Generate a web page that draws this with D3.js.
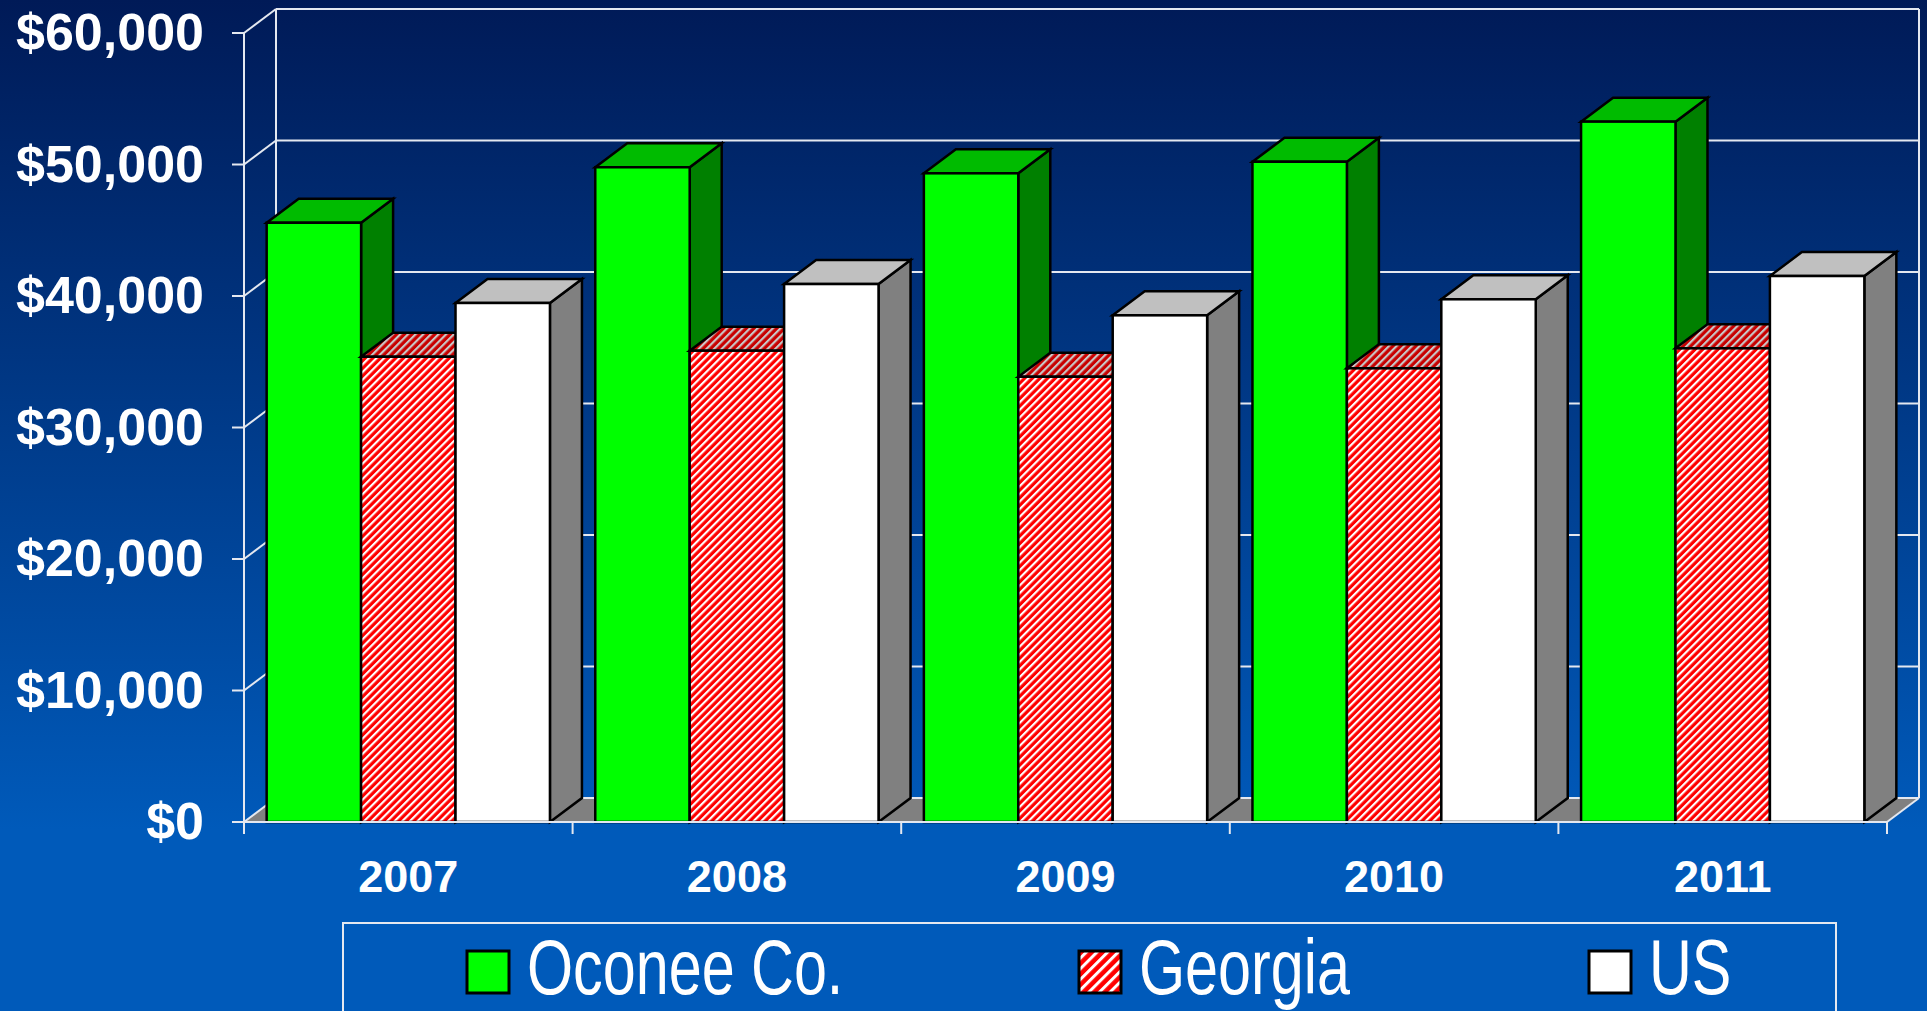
<!DOCTYPE html>
<html lang="en">
  <head>
    <meta charset="UTF-8" />
    <title>Per Capita Income</title>
    <style>
      html, body { margin: 0; padding: 0; overflow: hidden; background: #005cbd; }
      svg { display: block; }
    </style>
  </head>
  <body>
    <script src="https://cdnjs.cloudflare.com/ajax/libs/d3/7.8.5/d3.min.js"></script>
    <script>
      var years = ["2007", "2008", "2009", "2010", "2011"];
      var series = ["Oconee Co.", "Georgia", "US"];
      var oconee = [45570, 49790, 49330, 50210, 53260];
      var georgia = [35380, 35840, 33860, 34500, 36020];
      var us = [39470, 40910, 38530, 39750, 41520];
      var yTicks = [0, 10000, 20000, 30000, 40000, 50000, 60000];

      var w = 1927, h = 1011;
      var depth = { x: 32, y: -24 };

      var svg = d3.select("body").append("svg")
                  .attr("width", w)
                  .attr("height", h);

      var defs = svg.append("defs");

      var bg = defs.append("linearGradient")
                   .attr("id", "bg")
                   .attr("gradientUnits", "userSpaceOnUse")
                   .attr("x1", 0).attr("y1", 0)
                   .attr("x2", 0).attr("y2", 830);
      bg.append("stop").attr("offset", "0%").attr("stop-color", "#001a57");
      bg.append("stop").attr("offset", "100%").attr("stop-color", "#005aba");

      // red / white stripes for Georgia
      function stripes(id, bgColor, lineColor, size) {
        var p = defs.append("pattern")
                    .attr("id", id)
                    .attr("patternUnits", "userSpaceOnUse")
                    .attr("width", size)
                    .attr("height", size)
                    .attr("patternTransform", "rotate(45)");
        p.append("rect").attr("width", size).attr("height", size).attr("fill", bgColor);
        p.append("rect").attr("width", size * 0.4).attr("height", size).attr("fill", lineColor);
      }
      stripes("redFront", "#ff0000", "#ffffff", 5.4);
      stripes("redTop", "#c80000", "#c8c8c8", 5.4);
      stripes("redSide", "#900000", "#909090", 5.4);
      stripes("redLegend", "#ff0000", "#ffffff", 7.5);

      svg.append("rect")
         .attr("width", w)
         .attr("height", h)
         .attr("fill", "url(#bg)");

      var x0 = d3.scaleBand()
                 .domain(years)
                 .range([244, 1887]);

      var x1 = d3.scaleBand()
                 .domain(series)
                 .range([0, x0.bandwidth()])
                 .paddingOuter(0.24);

      var yScale = d3.scaleLinear()
                     .domain([0, 60000])
                     .range([822, 33]);

      var colors = {
        "Oconee Co.": { front: "#00ff00", top: "#00bb00", side: "#008000" },
        "Georgia": { front: "url(#redFront)", top: "url(#redTop)", side: "url(#redSide)" },
        "US": { front: "#ffffff", top: "#c0c0c0", side: "#808080" }
      };

      var gridColor = "#e4e8f0";
      var x0L = 244, x0R = 1887;

      // floor
      svg.append("polygon")
         .attr("points", [
           [x0L, yScale(0)], [x0R, yScale(0)],
           [x0R + depth.x, yScale(0) + depth.y], [x0L + depth.x, yScale(0) + depth.y]
         ].join(" "))
         .attr("fill", "#808080");

      // back wall gridlines and side wall diagonals
      var grid = svg.append("g")
                    .attr("stroke", gridColor)
                    .attr("stroke-width", 2)
                    .attr("fill", "none");

      grid.selectAll(".back")
          .data(yTicks)
          .enter()
          .append("line")
          .attr("x1", x0L + depth.x)
          .attr("x2", x0R + depth.x)
          .attr("y1", function(d) { return yScale(d) + depth.y; })
          .attr("y2", function(d) { return yScale(d) + depth.y; });

      grid.selectAll(".diag")
          .data(yTicks)
          .enter()
          .append("line")
          .attr("x1", x0L)
          .attr("x2", x0L + depth.x)
          .attr("y1", function(d) { return yScale(d); })
          .attr("y2", function(d) { return yScale(d) + depth.y; });

      grid.append("line")
          .attr("x1", x0L + depth.x).attr("x2", x0L + depth.x)
          .attr("y1", yScale(60000) + depth.y).attr("y2", yScale(0) + depth.y);
      grid.append("line")
          .attr("x1", x0R + depth.x).attr("x2", x0R + depth.x)
          .attr("y1", yScale(60000) + depth.y).attr("y2", yScale(0) + depth.y);
      grid.append("line")
          .attr("x1", x0R).attr("x2", x0R + depth.x)
          .attr("y1", yScale(0)).attr("y2", yScale(0) + depth.y);

      // bars
      var rows = [];
      years.forEach(function(yr, i) {
        rows.push({ year: yr, key: "Oconee Co.", value: oconee[i] });
        rows.push({ year: yr, key: "Georgia", value: georgia[i] });
        rows.push({ year: yr, key: "US", value: us[i] });
      });

      var bars = svg.append("g")
                    .attr("stroke", "#000")
                    .attr("stroke-width", 2.5)
                    .attr("stroke-linejoin", "miter");

      rows.forEach(function(d) {
        var bx = x0(d.year) + x1(d.key);
        var bw = x1.bandwidth();
        var yt = yScale(d.value);
        var yb = yScale(0);
        var c = colors[d.key];
        var g = bars.append("g");
        g.append("polygon")
         .attr("points", [[bx + bw, yt], [bx + bw + depth.x, yt + depth.y],
                          [bx + bw + depth.x, yb + depth.y], [bx + bw, yb]].join(" "))
         .attr("fill", c.side);
        g.append("polygon")
         .attr("points", [[bx, yt], [bx + bw, yt],
                          [bx + bw + depth.x, yt + depth.y], [bx + depth.x, yt + depth.y]].join(" "))
         .attr("fill", c.top);
        g.append("rect")
         .attr("x", bx)
         .attr("y", yt)
         .attr("width", bw)
         .attr("height", yb - yt)
         .attr("fill", c.front);
      });

      // front axes
      var axis = svg.append("g")
                    .attr("stroke", gridColor)
                    .attr("stroke-width", 2);

      axis.append("line")
          .attr("x1", x0L).attr("x2", x0L)
          .attr("y1", yScale(60000)).attr("y2", yScale(0) + 12);
      axis.append("line")
          .attr("x1", x0L).attr("x2", x0R)
          .attr("y1", yScale(0)).attr("y2", yScale(0));

      axis.selectAll(".ytick")
          .data(yTicks)
          .enter()
          .append("line")
          .attr("x1", x0L - 12).attr("x2", x0L)
          .attr("y1", function(d) { return yScale(d); })
          .attr("y2", function(d) { return yScale(d); });

      var bounds = years.map(function(d) { return x0(d); }).concat([x0R]);
      axis.selectAll(".xtick")
          .data(bounds)
          .enter()
          .append("line")
          .attr("x1", function(d) { return d; })
          .attr("x2", function(d) { return d; })
          .attr("y1", yScale(0))
          .attr("y2", yScale(0) + 12);

      // labels
      svg.selectAll(".ylabel")
         .data(yTicks)
         .enter()
         .append("text")
         .attr("x", 204)
         .attr("y", function(d) { return yScale(d) + 17; })
         .attr("text-anchor", "end")
         .attr("font-family", "Liberation Sans, Arial, sans-serif")
         .attr("font-weight", "bold")
         .attr("font-size", 52)
         .attr("fill", "#fff")
         .text(function(d) { return "$" + d3.format(",")(d); });

      svg.selectAll(".xlabel")
         .data(years)
         .enter()
         .append("text")
         .attr("x", function(d) { return x0(d) + x0.bandwidth() / 2; })
         .attr("y", 892)
         .attr("text-anchor", "middle")
         .attr("font-family", "Liberation Sans, Arial, sans-serif")
         .attr("font-weight", "bold")
         .attr("font-size", 45)
         .attr("fill", "#fff")
         .text(function(d) { return d; });

      // legend
      svg.append("rect")
         .attr("x", 343)
         .attr("y", 923)
         .attr("width", 1493)
         .attr("height", 200)
         .attr("fill", "none")
         .attr("stroke", gridColor)
         .attr("stroke-width", 2);

      var legendX = [467, 1079, 1589];
      var legendFill = { "Oconee Co.": "#00ff00", "Georgia": "url(#redLegend)", "US": "#ffffff" };

      series.forEach(function(s, i) {
        svg.append("rect")
           .attr("x", legendX[i])
           .attr("y", 951)
           .attr("width", 42)
           .attr("height", 42)
           .attr("fill", legendFill[s])
           .attr("stroke", "#000")
           .attr("stroke-width", 3);
        svg.append("text")
           .attr("transform", "translate(" + (legendX[i] + 60) + ",994) scale(0.77,1)")
           .attr("font-family", "Liberation Sans, Arial, sans-serif")
           .attr("font-size", 77)
           .attr("fill", "#fff")
           .text(s);
      });
    </script>
  </body>
</html>
